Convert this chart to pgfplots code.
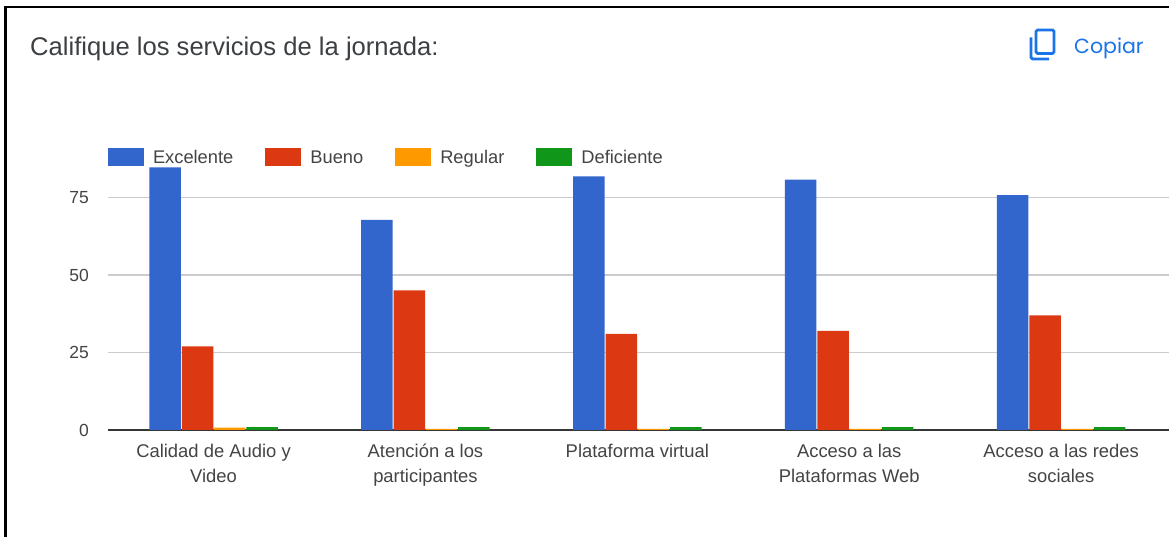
\documentclass[border=0pt]{standalone}
\usepackage{pgfplots}
\pgfplotsset{compat=1.18}
\usepackage{fontspec}
\setmainfont{Liberation Sans}
\newfontfamily\copiarfont{Poppins}
\definecolor{cblue}{HTML}{3366CC}
\definecolor{cred}{HTML}{DC3912}
\definecolor{corange}{HTML}{FF9900}
\definecolor{cgreen}{HTML}{109618}
\definecolor{ctext}{HTML}{444444}
\definecolor{ctitle}{HTML}{3C4043}
\definecolor{clink}{HTML}{1A73E8}
\begin{document}
\begin{tikzpicture}[x=1pt,y=1pt]
\useasboundingbox (0,0) rectangle (1169,537);
\fill[white] (0,0) rectangle (1169,537);
\draw[black,line width=2.2pt] (5.5,0) -- (5.5,530) -- (1169,530);
\node[anchor=base west,inner sep=0pt,text=ctitle,font=\fontsize{25.6}{30}\selectfont] at (30,481) {Califique los servicios de la jornada:};
\node[anchor=base west,inner sep=0pt,text=clink,font=\fontsize{20.5}{24}\copiarfont] at (1074,483.5) {Copiar};
\draw[clink,line width=2.8pt,rounded corners=1.5pt] (1036,507) -- (1036,483.5) -- (1054,483.5) -- (1054,507) -- cycle;
\draw[clink,line width=2.8pt,rounded corners=1.5pt] (1031,499.5) -- (1031,478) -- (1049,478);
\begin{axis}[
  at={(108pt,107pt)},anchor=south west,
  scale only axis,width=1061pt,height=263.5pt,
  xmin=-0.498,xmax=4.509,ymin=0,ymax=85,
  ybar,bar width=31.5pt,
  axis y line=left,
  axis x line=bottom,
  axis line style={-},
  y axis line style={draw=none},
  x axis line style={draw=ctext!80!black,line width=1.1pt},
  ymajorgrids,
  grid style={draw=black!20,line width=1.2pt},
  major tick length=0pt,
  ytick={0,25,50,75},
  xtick={0,1,2,3,4},
  xticklabels={Calidad de Audio y\\Video,Atención a los\\participantes,Plataforma virtual,Acceso a las\\Plataformas Web,Acceso a las redes\\sociales},
  /pgf/number format/assume math mode=true,
  yticklabel style={font=\fontsize{17.5}{20}\selectfont,text=ctext,anchor=east,xshift=-19pt,inner sep=0pt},
  xticklabel style={font=\fontsize{18.4}{25}\selectfont,text=ctext,align=center,anchor=north,yshift=-13.5pt,inner sep=0pt},
  legend style={at={(axis cs:-0.498,85)},anchor=west,draw=none,fill=none,inner sep=0pt,outer sep=0pt,
    legend columns=4,font=\fontsize{18.3}{22}\selectfont,text=ctext,
    /tikz/every even column/.append style={column sep=30pt},yshift=9pt},
  legend image code/.code={\fill[#1] (0pt,-9pt) rectangle (36pt,9pt);\path (43pt,0pt);},
  legend cell align=left,
]
\addplot[draw=none,fill=cblue,bar shift=-48.5pt] coordinates {(0,84.7)(1,67.8)(2,81.8)(3,80.8)(4,75.8)};
\addplot[draw=none,fill=cred,bar shift=-16pt] coordinates {(0,27)(1,45)(2,31)(3,32)(4,37)};
\addplot[draw=none,fill=corange,bar shift=16pt] coordinates {(0,0.8)(1,0.4)(2,0.4)(3,0.4)(4,0.4)};
\addplot[draw=none,fill=cgreen,bar shift=48.5pt] coordinates {(0,0.9)(1,0.9)(2,0.9)(3,0.9)(4,0.9)};
\legend{Excelente,Bueno,Regular,Deficiente}
\end{axis}
\end{tikzpicture}
\end{document}
